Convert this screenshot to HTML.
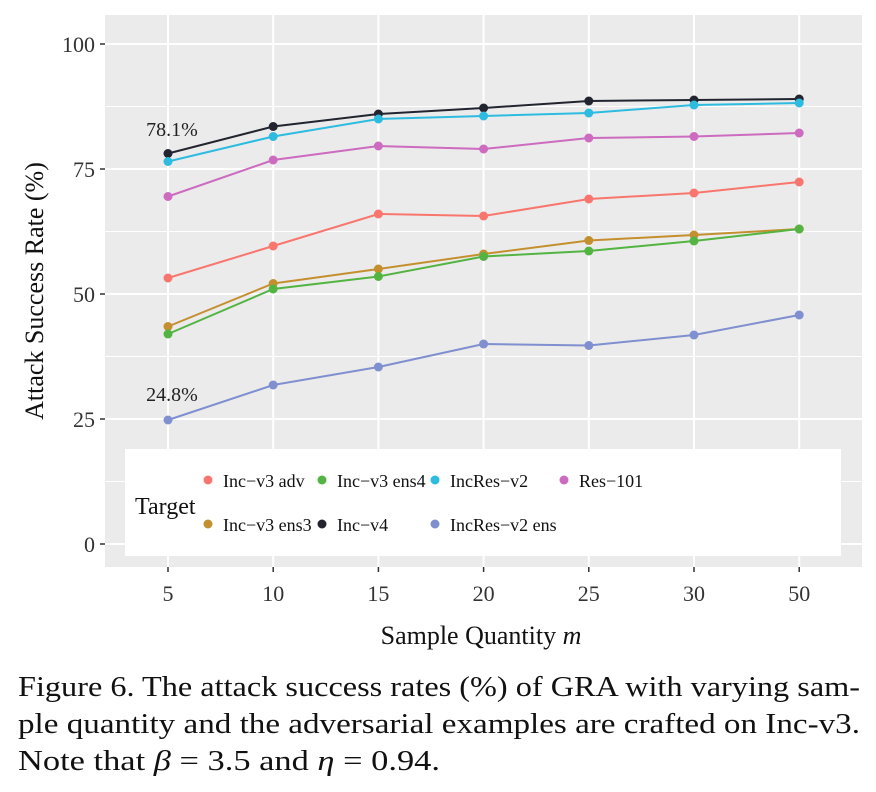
<!DOCTYPE html>
<html><head><meta charset="utf-8"><style>
body{margin:0;background:#fff;}
svg text{font-family:"Liberation Serif",serif;}
</style></head><body>
<svg id="chart" width="876" height="787" xmlns="http://www.w3.org/2000/svg">
<rect x="105" y="15" width="757" height="552" fill="#EBEBEB"/>
<g id="grid"></g><g id="series"></g><g id="axes"></g>
<text x="481" y="644" font-size="26" text-anchor="middle" fill="#111">Sample Quantity <tspan font-style="italic">m</tspan></text>
<text transform="translate(43,291) rotate(-90)" font-size="26" text-anchor="middle" fill="#111">Attack Success Rate (%)</text>
<text x="172" y="136" font-size="20" text-anchor="middle" fill="#222">78.1%</text>
<text x="172" y="401" font-size="20" text-anchor="middle" fill="#222">24.8%</text>
<g>
<rect x="125" y="449" width="716" height="107" fill="#fff"/>
<text x="135" y="514" font-size="24" fill="#111">Target</text>
<g id="legend-items"></g>
</g>
<g font-size="28" fill="#111">
<text x="18" y="696" textLength="842" lengthAdjust="spacingAndGlyphs">Figure 6. The attack success rates (%) of GRA with varying sam-</text>
<text x="18" y="733" textLength="842" lengthAdjust="spacingAndGlyphs">ple quantity and the adversarial examples are crafted on Inc-v3.</text>
<text x="18" y="770" textLength="422" lengthAdjust="spacingAndGlyphs">Note that <tspan font-style="italic">β</tspan> = 3.5 and <tspan font-style="italic">η</tspan> = 0.94.</text>
</g>
</svg>
<script>
const categories=["5","10","15","20","25","30","50"];
const yTicks=[0,25,50,75,100];
const seriesNames=["Inc-v3 adv","Inc-v3 ens3","Inc-v3 ens4","Inc-v4","IncRes-v2","IncRes-v2 ens","Res-101"];
const seriesColors=["#F8766D","#C4902F","#53B441","#222530","#2DBBE0","#7F8FCF","#CC6BBF"];
const incV3Adv=[53.2,59.6,66.0,65.6,69.0,70.2,72.4];
const incV3Ens3=[43.5,52.1,55.0,58.0,60.7,61.8,63.0];
const incV3Ens4=[42.0,51.0,53.5,57.5,58.6,60.6,63.0];
const incV4=[78.1,83.5,86.0,87.2,88.6,88.8,89.0];
const incResV2=[76.5,81.5,85.0,85.6,86.2,87.8,88.2];
const incResV2Ens=[24.8,31.8,35.4,40.0,39.7,41.8,45.8];
const res101=[69.5,76.8,79.6,79.0,81.2,81.5,82.2];
const seriesValues=[incV3Adv,incV3Ens3,incV3Ens4,incV4,incResV2,incResV2Ens,res101];
const NS="http://www.w3.org/2000/svg";
const xScale=i=>168+i*105.2;
const yScale=v=>544-v*5;
function mk(tag,attrs,parent){const e=document.createElementNS(NS,tag);for(const k in attrs)e.setAttribute(k,attrs[k]);parent.appendChild(e);return e;}
const grid=document.getElementById('grid'),axes=document.getElementById('axes'),ser=document.getElementById('series');
yTicks.forEach((t,i)=>{
  if(i<yTicks.length-1){const l=mk('line',{x1:105,x2:862,y1:yScale(t+12.5),y2:yScale(t+12.5),stroke:'#fff','stroke-width':1},grid);
  }
  const g=mk('line',{x1:105,x2:862,y1:yScale(t),y2:yScale(t),stroke:'#fff','stroke-width':2},grid);
  
  const tk=mk('line',{x1:100,x2:105,y1:yScale(t),y2:yScale(t),stroke:'#333','stroke-width':1.5},axes);
  
  const tx=mk('text',{x:95,y:yScale(t)+8,'font-size':22,'text-anchor':'end',fill:'#333'},axes);tx.textContent=t;
  
});
categories.forEach((c,i)=>{
  const g=mk('line',{x1:xScale(i),x2:xScale(i),y1:15,y2:567,stroke:'#fff','stroke-width':2},grid);
  
  const tk=mk('line',{x1:xScale(i),x2:xScale(i),y1:567,y2:572,stroke:'#333','stroke-width':1.5},axes);
  
  const tx=mk('text',{x:xScale(i),y:601,'font-size':22,'text-anchor':'middle',fill:'#333'},axes);tx.textContent=c;
  
});
seriesValues.forEach((vals,s)=>{
  const pts=vals.map((v,i)=>xScale(i)+','+yScale(v)).join(' ');
  const pl=mk('polyline',{points:pts,fill:'none',stroke:seriesColors[s],'stroke-width':2},ser);
  
  
  vals.forEach((v,i)=>{
    const c=mk('circle',{cx:xScale(i),cy:yScale(v),r:4.5,fill:seriesColors[s]},ser);
    
    
  });
});
const legendPos=[[208,480],[208,524],[322,480],[322,524],[435,480],[435,524],[564,480]];
const li=document.getElementById('legend-items');
seriesNames.forEach((n,s)=>{
  const g=mk('g',{},li);
  
  
  const [x,y]=legendPos[s];
  mk('circle',{cx:x,cy:y,r:4.5,fill:seriesColors[s]},g);
  const t=mk('text',{x:x+15,y:y+7,'font-size':18,fill:'#111'},g);t.textContent=n.replace(/-/g,'\u2212');
});
</script>
</body></html>
